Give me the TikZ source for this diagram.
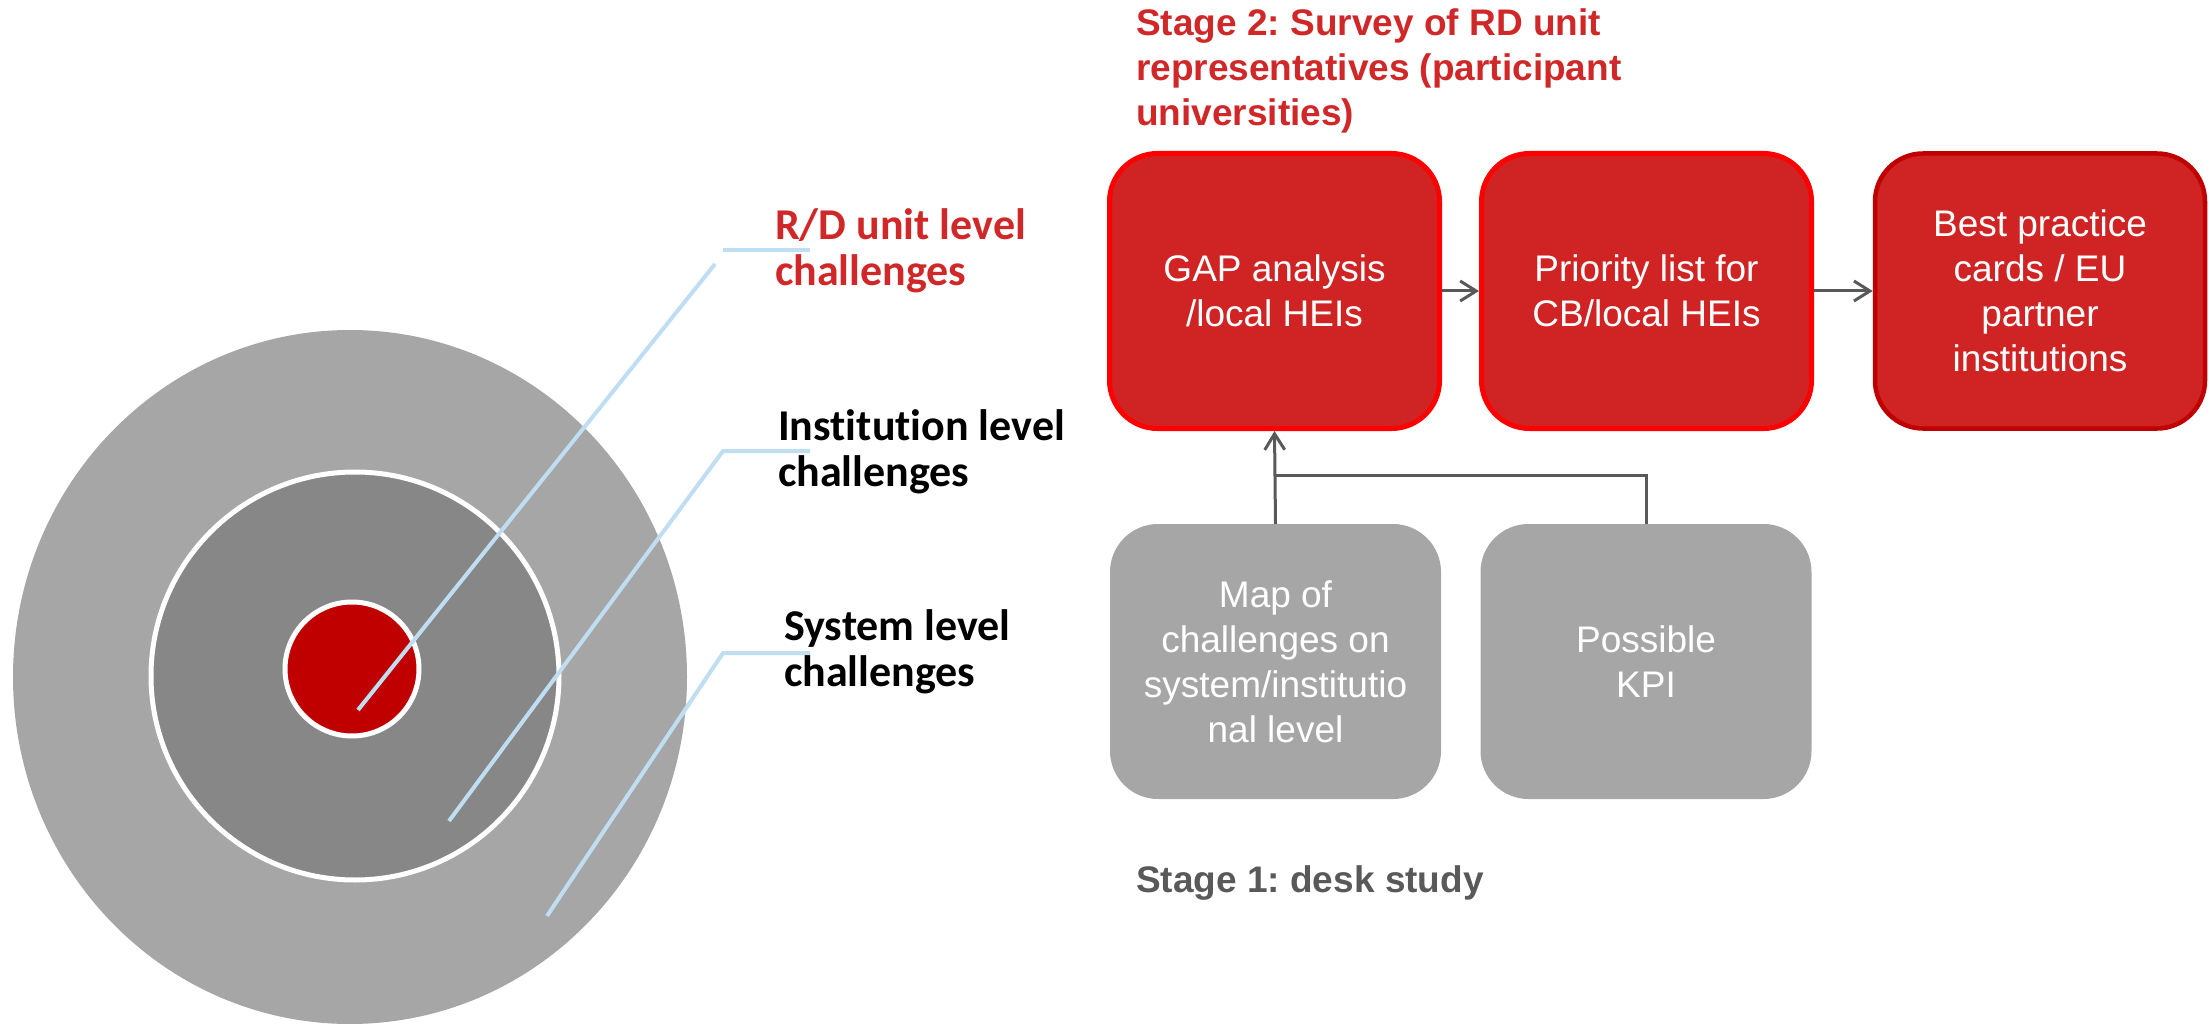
\documentclass[tikz,border=0pt]{standalone}
\usepackage{fontspec}
\setmainfont{Liberation Sans}
\newfontfamily\labelfont[Ligatures=NoCommon]{Carlito}
\usetikzlibrary{arrows.meta}
\frenchspacing

\definecolor{boxred}{RGB}{208,36,36}
\definecolor{edgered}{RGB}{255,0,0}
\definecolor{darkedge}{RGB}{192,0,0}
\definecolor{titlered}{RGB}{208,40,40}
\definecolor{coregray}{RGB}{135,135,135}
\definecolor{ringgray}{RGB}{166,166,166}
\definecolor{corered}{RGB}{192,0,0}
\definecolor{leaderblue}{RGB}{192,222,242}
\definecolor{linegray}{RGB}{89,89,89}

\begin{document}
\begin{tikzpicture}[x=1pt,y=-1pt,
  boxtext/.style={text=white, align=center, inner sep=0pt,
    font=\fontsize{37}{45}\selectfont},
  redbox/.style={boxtext, draw=edgered, line width=5pt, fill=boxred,
    rounded corners=48pt, minimum width=330pt, minimum height=275pt},
  graybox/.style={boxtext, fill=ringgray, rounded corners=48pt,
    minimum width=331pt, minimum height=275pt},
  leader/.style={draw=leaderblue, line width=4pt},
  conn/.style={draw=linegray, line width=3pt},
  flow/.style={conn, -{Straight Barb[length=16pt,width=20pt,line width=3pt]}},
  lvl/.style={anchor=base west, inner sep=0pt,
    font=\labelfont\bfseries\fontsize{44}{46}\selectfont},
  stage/.style={anchor=base west, inner sep=0pt,
    font=\bfseries\fontsize{37}{45}\selectfont}
]
\useasboundingbox (0,0) rectangle (2212,1024);

% target of nested challenge levels
\fill[ringgray] (350,677) ellipse [x radius=337pt, y radius=347pt];
\filldraw[fill=coregray, draw=white, line width=5pt] (355,676) circle [radius=204pt];
\filldraw[fill=corered, draw=white, line width=5pt] (352,669) circle [radius=67pt];

% leader lines from each ring to its label
\coordinate (rdIn) at (358,710);
\coordinate (rdBend) at (715,264);
\coordinate (rdKnee) at (723,250);
\coordinate (rdEnd) at (810,250);
\coordinate (instIn) at (449,821);
\coordinate (instKnee) at (723,451);
\coordinate (instEnd) at (810,451);
\coordinate (sysIn) at (547,916);
\coordinate (sysKnee) at (723,653);
\coordinate (sysEnd) at (810,653);
\draw[leader] (rdIn) -- (rdBend);
\draw[leader] (rdKnee) -- (rdEnd);
\draw[leader] (instIn) -- (instKnee) -- (instEnd);
\draw[leader] (sysIn) -- (sysKnee) -- (sysEnd);

\node[lvl, text=titlered] (rdlabel) at (775,240)
  {\vtop{\hbox{R/D unit level}\hbox{challenges}}};
\node[lvl, text=black] (instlabel) at (778,440)
  {\vtop{\hbox{Institution level}\hbox{challenges}}};
\node[lvl, text=black] (syslabel) at (784,640)
  {\vtop{\hbox{System level}\hbox{challenges}}};

% stage 2 boxes
\node[stage, text=titlered] (stage2) at (1136,36)
  {\vtop{\hbox{Stage 2: Survey of RD unit}\hbox{representatives (participant}\hbox{universities)}}};
\node[redbox] (gap) at (1274.5,291) {GAP analysis\\/local HEIs};
\node[redbox] (prio) at (1646.5,291) {Priority list for\\CB/local HEIs};
\node[redbox, draw=darkedge, line width=4.5pt] (best) at (2040,291) {Best practice\\cards / EU\\partner\\institutions};

% stage 1 boxes
\node[graybox] (map) at (1275.5,661.5) {Map of\\challenges on\\system/institutio\\nal level};
\node[graybox] (kpi) at (1646,661.5) {Possible\\KPI};
\node[stage, text=linegray] (stage1) at (1136,892) {Stage 1: desk study};

% connectors
\draw[flow] (gap.east) -- (prio.west);
\draw[flow] (prio.east) -- (best.west);
\draw[flow] (map.north) -- (gap.south);
\coordinate (join) at ([yshift=48pt]kpi.north);
\draw[conn] (kpi.north) |- (map.north |- join);
\end{tikzpicture}
\end{document}
